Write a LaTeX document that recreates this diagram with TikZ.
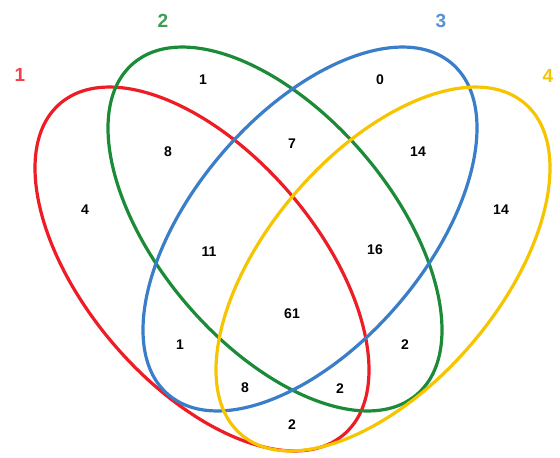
\documentclass[tikz,border=0pt]{standalone}
\usepackage{fontspec}
\setmainfont{Liberation Sans}
\usepackage{tikz}
\definecolor{setA}{HTML}{EE1D25}
\definecolor{setB}{HTML}{1B8B38}
\definecolor{setC}{HTML}{3A7DC9}
\definecolor{setD}{HTML}{F6C500}
\begin{document}
\begin{tikzpicture}[x=1pt,y=-1pt,
  ring/.style={line width=3.2pt},
  cnt/.style={font=\fontsize{14}{14}\selectfont\bfseries,inner sep=0pt},
  tag/.style={font=\fontsize{19}{19}\selectfont\bfseries,inner sep=0pt}]
\useasboundingbox[fill=white] (0,0) rectangle (560,458);
% the four sets
\draw[ring,draw=setA,rotate around={-49.4:(202,269)}] (202,269) ellipse [x radius=218,y radius=116];
\draw[ring,draw=setB,rotate around={-49.4:(275,229)}] (275,229) ellipse [x radius=218,y radius=116];
\draw[ring,draw=setC,rotate around={49.4:(310,229)}] (310,229) ellipse [x radius=218,y radius=116];
\draw[ring,draw=setD,rotate around={49.4:(383,269)}] (383,269) ellipse [x radius=218,y radius=116];
% set labels
\node[tag,text=setA!85!white] (tA) at (20,75) {1};
\node[tag,text=setB!85!white] (tB) at (163,21) {2};
\node[tag,text=setC!85!white] (tC) at (441,21) {3};
\node[tag,text=setD] (tD) at (548,76) {4};
% region counts
\node[cnt] (a) at (85,210) {4};
\node[cnt] (b) at (203,80) {1};
\node[cnt] (c) at (380,80) {0};
\node[cnt] (d) at (501,210) {14};
\node[cnt] (ab) at (168,152) {8};
\node[cnt] (bc) at (292,144) {7};
\node[cnt] (cd) at (418,152) {14};
\node[cnt] (abc) at (209,252) {11};
\node[cnt] (bcd) at (375,250) {16};
\node[cnt] (abcd) at (292,314) {61};
\node[cnt] (ac) at (180,345) {1};
\node[cnt] (bd) at (405,345) {2};
\node[cnt] (acd) at (245,388) {8};
\node[cnt] (abd) at (340,389) {2};
\node[cnt] (ad) at (292,425) {2};
\end{tikzpicture}
\end{document}
